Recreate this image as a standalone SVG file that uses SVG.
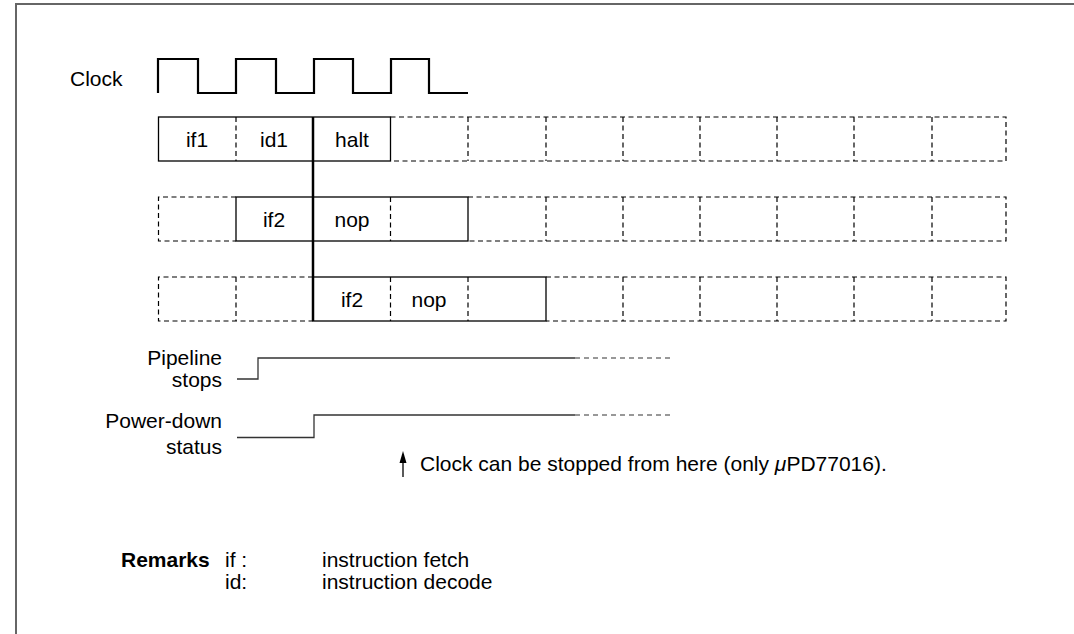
<svg xmlns="http://www.w3.org/2000/svg" width="1074" height="634" viewBox="0 0 1074 634">
  <style>
    text { font-family: "Liberation Sans", Arial, sans-serif; font-size: 21px; fill: #000; }
    .c { text-anchor: middle; }
    .r { text-anchor: end; }
    .b { font-weight: bold; }
    .frame { fill: none; stroke: #666; stroke-width: 2; }
    .solid { fill: none; stroke: #000; stroke-width: 1.3; }
    .dash { fill: none; stroke: #000; stroke-width: 1.2; stroke-dasharray: 5 3.5; }
    .clk { fill: none; stroke: #000; stroke-width: 2.2; }
    .sig { fill: none; stroke: #333; stroke-width: 1.3; }
    .sigd { fill: none; stroke: #333; stroke-width: 1.2; stroke-dasharray: 5 4; }
    .stop { fill: none; stroke: #000; stroke-width: 2.5; }
  </style>
  <rect width="1074" height="634" fill="#fff"/>

  <!-- page frame (top and left edges only) -->
  <path class="frame" d="M16,634 V4 H1074"/>

  <!-- clock waveform -->
  <g id="clock">
    <text x="70" y="86">Clock</text>
    <path class="clk" d="M158,93 V59 H198 V93 H236 V59 H276 V93 H314 V59 H353 V93 H391 V59 H429 V93 H468"/>
  </g>

  <!-- row 1: if1 / id1 / halt -->
  <g id="row1">
    <path class="dash" d="M236,117 V161"/>
    <rect class="solid" x="158.5" y="117" width="232" height="44"/>
    <path class="dash" d="M390.5,117 H1006 V161 H390.5 M468,117 V161 M546,117 V161 M623,117 V161 M700,117 V161 M777,117 V161 M854,117 V161 M932,117 V161"/>
    <text class="c" x="197" y="147">if1</text>
    <text class="c" x="274" y="147">id1</text>
    <text class="c" x="352" y="147">halt</text>
  </g>

  <!-- row 2: if2 / nop -->
  <g id="row2">
    <path class="dash" d="M236,197 H158.5 V241 H236"/>
    <path class="dash" d="M390.5,197 V241"/>
    <rect class="solid" x="236" y="197" width="232" height="44"/>
    <path class="dash" d="M468,197 H1006 V241 H468 M546,197 V241 M623,197 V241 M700,197 V241 M777,197 V241 M854,197 V241 M932,197 V241"/>
    <text class="c" x="274" y="227">if2</text>
    <text class="c" x="352" y="227">nop</text>
  </g>

  <!-- row 3: if2 / nop -->
  <g id="row3">
    <path class="dash" d="M313,277 H158.5 V321 H313 M236,277 V321"/>
    <path class="dash" d="M390.5,277 V321 M468,277 V321"/>
    <rect class="solid" x="313" y="277" width="233" height="44"/>
    <path class="dash" d="M546,277 H1006 V321 H546 M623,277 V321 M700,277 V321 M777,277 V321 M854,277 V321 M932,277 V321"/>
    <text class="c" x="352" y="307">if2</text>
    <text class="c" x="429" y="307">nop</text>
  </g>

  <!-- halt boundary and clock-stop pointer -->
  <g id="connectors">
    <path class="stop" d="M313,117 V321"/>
    <path class="solid" d="M403,477 V460"/>
    <path d="M399.5,463 L403,451 L406.5,463 Z" fill="#000"/>
  </g>

  <!-- pipeline stops signal -->
  <g id="pipeline">
    <text class="r" x="222" y="365">Pipeline</text>
    <text class="r" x="222" y="387">stops</text>
    <path class="sig" d="M237,379 H258 V358 H575"/>
    <path class="sigd" d="M575,358 H672"/>
  </g>

  <!-- power-down status signal -->
  <g id="powerdown">
    <text class="r" x="222" y="428">Power-down</text>
    <text class="r" x="222" y="454">status</text>
    <path class="sig" d="M237,437.5 H314 V415 H575"/>
    <path class="sigd" d="M575,415 H672"/>
  </g>

  <g id="note">
    <text x="420" y="471">Clock can be stopped from here (only <tspan font-style="italic">μ</tspan>PD77016).</text>
  </g>

  <g id="remarks">
    <text class="b" x="121" y="567">Remarks</text>
    <text x="225" y="567">if :</text>
    <text x="322" y="567">instruction fetch</text>
    <text x="225" y="589">id:</text>
    <text x="322" y="589">instruction decode</text>
  </g>
</svg>
